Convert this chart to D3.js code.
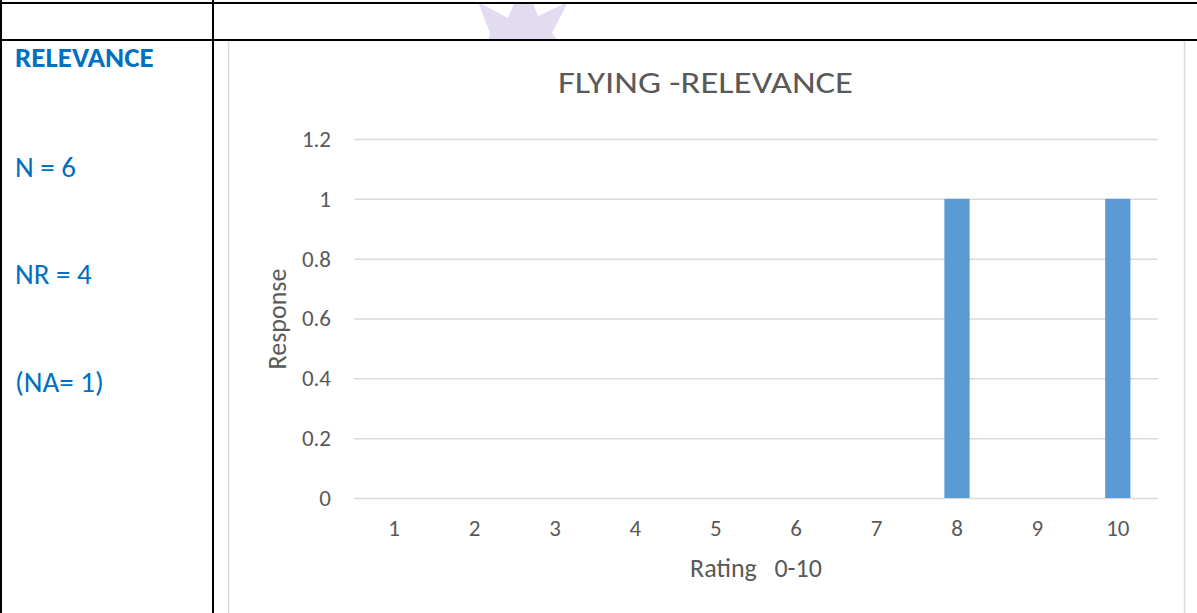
<!DOCTYPE html>
<html>
<head>
<meta charset="utf-8">
<script src="https://cdn.jsdelivr.net/npm/d3@7"></script>
<style>
	html, body { margin: 0; padding: 0; background: #fff; }
	svg { display: block; font-family: Carlito, Lato, "Open Sans", sans-serif; }
</style>
</head>
<body>
<div id="chartDiv"></div>
<script>
;(function() {

	var width = 1197;
	var height = 613;

	// chart data
	var categories = ["1", "2", "3", "4", "5", "6", "7", "8", "9", "10"];
	var responses = [0, 0, 0, 0, 0, 0, 0, 1, 0, 1];
	var yTicks = [0, 0.2, 0.4, 0.6, 0.8, 1, 1.2];

	// left column of the table
	var sideLabels = ["N = 6", "NR = 4", "(NA= 1)"];
	var sideHeader = "RELEVANCE";

	var chartTitle = "FLYING -RELEVANCE";
	var xAxisLabelHeader = "Rating   0-10";
	var yAxisLabelHeader = "Response";

	var plot = { left: 354, right: 1158, top: 139, bottom: 498 };
	var textGrey = "#595959";
	var blue = "#0070c0";

	var svg = d3.select("#chartDiv").append("svg")
		.attr("width", width)
		.attr("height", height);

	// watermark star peeking in above the chart
	svg.append("clipPath").attr("id", "wmClip")
		.append("rect").attr("x", 214).attr("y", 4).attr("width", 980).attr("height", 35);
	svg.append("polygon")
		.attr("clip-path", "url(#wmClip)")
		.attr("points", "478,2 508,18 524,-20 538,16 568,2 552,33 559,42 488,42 490,33")
		.attr("fill", "#e3dcf1");

	// chart box
	svg.append("rect")
		.attr("x", 228.5).attr("y", 40.5)
		.attr("width", 956).attr("height", 580)
		.attr("fill", "none")
		.attr("stroke", "#d9d9d9")
		.attr("stroke-width", 1.5);

	// table lines
	var tbl = svg.append("g").attr("stroke", "#000").attr("stroke-width", 2);
	tbl.append("line").attr("x1", 0).attr("x2", width).attr("y1", 3).attr("y2", 3);
	tbl.append("line").attr("x1", 0).attr("x2", width).attr("y1", 40).attr("y2", 40);
	tbl.append("line").attr("x1", 1).attr("x2", 1).attr("y1", 0).attr("y2", height);
	tbl.append("line").attr("x1", 213).attr("x2", 213).attr("y1", 0).attr("y2", height);

	// side text
	svg.append("text")
		.attr("x", 15).attr("y", 67)
		.attr("fill", blue)
		.style("font-size", "29px")
		.style("font-weight", "bold")
		.text(sideHeader);

	svg.selectAll(".side-label").data(sideLabels).enter().append("text")
		.attr("class", "side-label")
		.attr("x", 15)
		.attr("y", function(d, i) { return 177 + i * 107.3; })
		.attr("fill", blue)
		.style("font-size", "29px")
		.text(function(d) { return d; });

	// scales
	var xScale = d3.scaleBand()
		.domain(categories)
		.range([plot.left, plot.right])
		.paddingInner(0.686)
		.paddingOuter(0.343);

	var yScale = d3.scaleLinear()
		.domain([0, 1.2])
		.range([plot.bottom, plot.top]);

	// gridlines
	var yAxis = d3.axisLeft(yScale)
		.tickValues(yTicks)
		.tickSize(-(plot.right - plot.left))
		.tickPadding(23)
		.tickFormat(function(d) { return d3.format("~g")(d); });

	var yAxisContainer = svg.append("g")
		.attr("transform", "translate(" + plot.left + ",0)")
		.call(yAxis)
		.attr("font-family", null)
		.attr("font-size", null);
	yAxisContainer.select(".domain").remove();
	yAxisContainer.selectAll(".tick line")
		.attr("stroke", "#d9d9d9")
		.attr("stroke-width", 1.5);
	yAxisContainer.selectAll(".tick text")
		.attr("fill", textGrey)
		.style("font-size", "23px");

	var xAxis = d3.axisBottom(xScale).tickSize(0).tickPadding(22);
	var xAxisContainer = svg.append("g")
		.attr("transform", "translate(0," + plot.bottom + ")")
		.call(xAxis)
		.attr("font-family", null)
		.attr("font-size", null);
	xAxisContainer.select(".domain").remove();
	xAxisContainer.selectAll(".tick text")
		.attr("fill", textGrey)
		.style("font-size", "23px");

	// bars
	svg.selectAll(".bar").data(responses).enter().append("rect")
		.attr("class", "bar")
		.attr("x", function(d, i) { return xScale(categories[i]); })
		.attr("y", function(d) { return yScale(d); })
		.attr("width", xScale.bandwidth())
		.attr("height", function(d) { return yScale(0) - yScale(d); })
		.attr("fill", "#5b9bd5");

	// title
	svg.append("text")
		.attr("x", 705.5).attr("y", 93)
		.attr("text-anchor", "middle")
		.attr("fill", textGrey)
		.attr("textLength", 295)
		.attr("lengthAdjust", "spacingAndGlyphs")
		.style("font-size", "30px")
		.text(chartTitle);

	// x axis header label
	svg.append("text")
		.attr("x", 756).attr("y", 577)
		.attr("text-anchor", "middle")
		.attr("fill", textGrey)
		.attr("xml:space", "preserve")
		.style("white-space", "pre")
		.style("font-size", "26px")
		.text(xAxisLabelHeader);

	// y axis header label
	svg.append("text")
		.attr("text-anchor", "middle")
		.attr("fill", textGrey)
		.style("font-size", "26px")
		.attr("transform", "translate(286,319) rotate(-90)")
		.text(yAxisLabelHeader);

})();
</script>
</body>
</html>
